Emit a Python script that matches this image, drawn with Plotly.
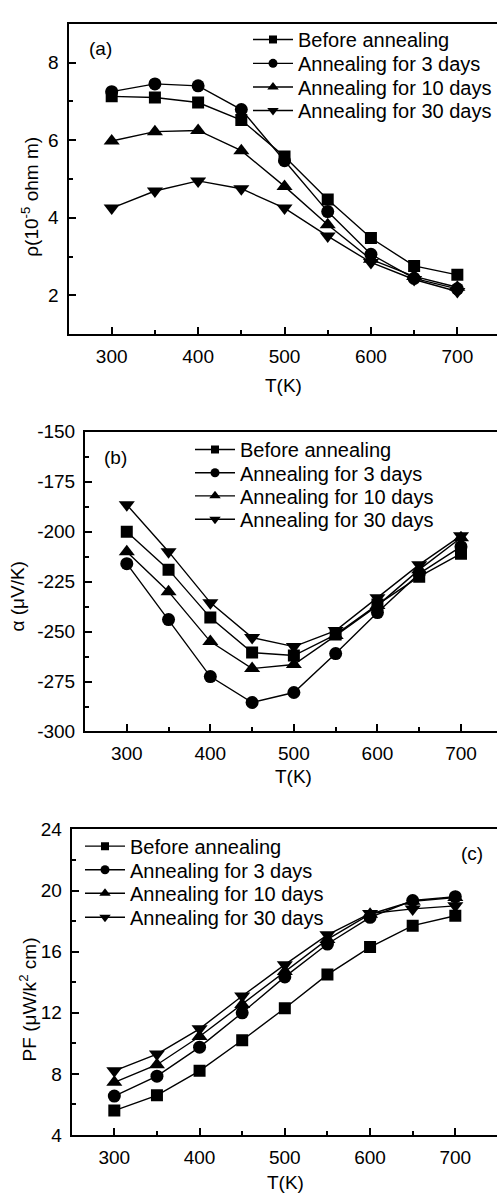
import plotly.graph_objects as go

# ---------------- data ----------------
temps = [300, 350, 400, 450, 500, 550, 600, 650, 700]
series_names = ["Before annealing", "Annealing for 3 days",
                "Annealing for 10 days", "Annealing for 30 days"]

rho_before = [7.13, 7.10, 6.97, 6.52, 5.58, 4.47, 3.48, 2.76, 2.53]
rho_3d = [7.25, 7.45, 7.40, 6.79, 5.47, 4.16, 3.06, 2.44, 2.17]
rho_10d = [5.98, 6.22, 6.25, 5.73, 4.81, 3.82, 2.93, 2.49, 2.21]
rho_30d = [4.25, 4.69, 4.95, 4.75, 4.25, 3.53, 2.85, 2.41, 2.10]

alpha_before = [-200, -219, -243, -260.5, -262, -251.5, -236.5, -222.5, -211]
alpha_3d = [-216, -244, -272.5, -285.5, -280.5, -261, -240.5, -221, -207.5]
alpha_10d = [-210, -230, -255, -268.5, -266.5, -252, -237, -219, -203]
alpha_30d = [-186.5, -210, -235.5, -253, -257.5, -249.5, -233, -216.5, -202]

pf_before = [5.6, 6.6, 8.2, 10.2, 12.3, 14.5, 16.3, 17.7, 18.35]
pf_3d = [6.55, 7.85, 9.75, 12.0, 14.35, 16.5, 18.25, 19.35, 19.6]
pf_10d = [7.45, 8.6, 10.45, 12.55, 14.7, 16.8, 18.45, 19.3, 19.55]
pf_30d = [8.2, 9.3, 10.95, 13.1, 15.15, 17.1, 18.5, 18.8, 19.0]

alpha_tickvals = [-300, -275, -250, -225, -200, -175, -150]
alpha_ticktext = ["-300", "-275", "-250", "-225", "-200", "-175", "-150"]

symbols = ["square", "circle", "triangle-up", "triangle-down"]
msizes = [12, 13, 14, 14]
leg_msizes = [8, 9, 10, 10]

W, H = 497, 1203
FONT = "Liberation Sans, Arial, sans-serif"
FS = 19
LFS = 20


def fx(px):
    return px / W


def fy(py):
    return 1 - py / H


fig = go.Figure()

# panel geometry in pixels
geo = [
    dict(l=68.5, t=14, b=330, xr=[250, 745.9], yr=[1, 9], dt=2, mdt=1,
         leg_x=253, leg_rows=[30, 54.3, 78.3, 102.3]),
    dict(l=85, t=429.3, b=734.3, xr=[250, 743.1], yr=[-300, -150], dt=25, mdt=12.5,
         leg_x=195, leg_rows=[447.3, 471, 494.5, 518.3]),
    dict(l=71.7, t=834, b=1145, xr=[250, 748.9], yr=[4, 24], dt=4, mdt=2,
         leg_x=85, leg_rows=[851, 875, 899, 923.3]),
]
panel_data = [
    [rho_before, rho_3d, rho_10d, rho_30d],
    [alpha_before, alpha_3d, alpha_10d, alpha_30d],
    [pf_before, pf_3d, pf_10d, pf_30d],
]

layout = {}
leg_idx = 0
for i, (g, data) in enumerate(zip(geo, panel_data)):
    sfx = "" if i == 0 else str(i + 1)
    for k, (name, ys) in enumerate(zip(series_names, data)):
        fig.add_trace(go.Scatter(
            x=temps, y=ys, name=name, mode="lines+markers",
            line=dict(color="black", width=1.4),
            marker=dict(symbol=symbols[k], size=msizes[k], color="black",
                        line=dict(width=0)),
            xaxis="x" + sfx, yaxis="y" + sfx, showlegend=False,
        ))
        # legend entry (one legend per row so rows can be spaced as in the figure)
        leg_idx += 1
        lname = "legend" if leg_idx == 1 else "legend%d" % leg_idx
        fig.add_trace(go.Scatter(
            x=[None], y=[None], name=name, mode="lines+markers",
            line=dict(color="black", width=1.4),
            marker=dict(symbol=symbols[k], size=leg_msizes[k], color="black",
                        line=dict(width=0)),
            xaxis="x" + sfx, yaxis="y" + sfx, showlegend=True, legend=lname,
        ))
        layout[lname] = dict(
            bgcolor="rgba(0,0,0,0)", borderwidth=0,
            font=dict(family=FONT, size=LFS, color="black"),
            xanchor="left", yanchor="middle",
            xref="paper", yref="paper", itemwidth=40,
            x=fx(g["leg_x"] - 5), y=fy(g["leg_rows"][k]),
        )

common_axis = dict(
    showline=True, linecolor="black", linewidth=2,
    ticks="inside", ticklen=7, tickwidth=1.5, tickcolor="black",
    showgrid=False, zeroline=False,
    tickfont=dict(family=FONT, size=FS, color="black"),
)

for i, g in enumerate(geo):
    sfx = "" if i == 0 else str(i + 1)
    layout["xaxis" + sfx] = dict(
        common_axis, domain=[fx(g["l"]), 1], range=g["xr"],
        anchor="y" + sfx, dtick=100, tick0=0, mirror=True,
        minor=dict(ticks="inside", ticklen=4, dtick=50, tick0=0,
                   tickcolor="black", tickwidth=1.5),
        ticklabelstandoff=4,
    )
    yax = dict(
        common_axis, domain=[fy(g["b"]), fy(g["t"])], range=g["yr"],
        anchor="x" + sfx, dtick=g["dt"], tick0=0, mirror=False,
        minor=dict(ticks="inside", ticklen=4, dtick=g["mdt"], tick0=0,
                   tickcolor="black", tickwidth=1.5),
        ticklabelstandoff=4,
    )
    if i == 1:
        yax.update(tickmode="array", tickvals=alpha_tickvals,
                   ticktext=alpha_ticktext)
    layout["yaxis" + sfx] = yax

annots = [
    dict(text="(a)", x=fx(100), y=fy(39)),
    dict(text="(b)", x=fx(115), y=fy(455)),
    dict(text="(c)", x=fx(471.7), y=fy(858)),
    dict(text="T(K)", x=fx(283), y=fy(382)),
    dict(text="T(K)", x=fx(293), y=fy(780)),
    dict(text="T(K)", x=fx(285), y=fy(1193)),
    dict(text="ρ(10<sup>-5</sup> ohm m)", x=fx(30), y=fy(190), textangle=-90),
    dict(text="α (μV/K)", x=fx(18), y=fy(597), textangle=-90),
    dict(text="PF (μW/k<sup>2</sup> cm)", x=fx(28), y=fy(1007), textangle=-90),
]
layout["annotations"] = [
    dict(a, xref="paper", yref="paper", showarrow=False,
         xanchor="center", yanchor="middle",
         font=dict(family=FONT, size=FS, color="black"))
    for a in annots
]

fig.update_layout(
    **layout,
    width=W, height=H,
    margin=dict(l=0, r=0, t=0, b=0),
    paper_bgcolor="white", plot_bgcolor="white",
    font=dict(family=FONT, size=FS, color="black"),
    hovermode=False,
)

fig.write_html("out.html",
               config={"displayModeBar": False},
               post_script="document.body.style.margin='0';document.body.style.overflow='hidden';")
